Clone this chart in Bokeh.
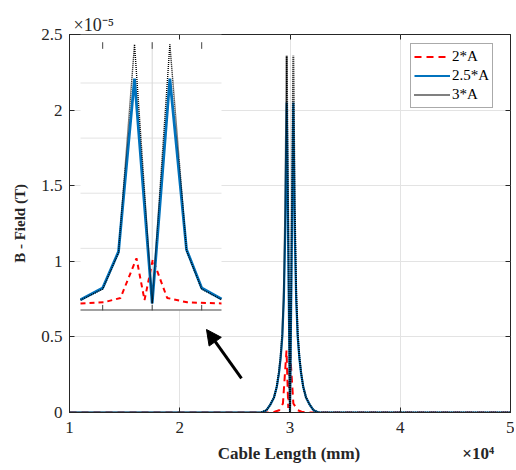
from bokeh.plotting import figure
from bokeh.models import Range1d, FixedTicker, LinearAxis, Arrow, NormalHead
from bokeh.embed import file_html
from bokeh.resources import INLINE

# ---------------- data (x in mm, B in units of 1e-5 T) ----------------
x_ticks = [10000, 20000, 30000, 40000, 50000]
x_tick_labels = ["1", "2", "3", "4", "5"]
y_ticks = [0, 0.5, 1, 1.5, 2, 2.5]
y_tick_labels = ["0", "0.5", "1", "1.5", "2", "2.5"]

main_x = [10000, 27400, 27870, 28200, 28550, 28800, 29000, 29150, 29300, 29440, 29570, 29700,
          30000, 30300, 30430, 30560, 30700, 30850, 31000, 31200, 31450, 31800, 32130, 32600, 50000]
b_25A = [0, 0, 0.015, 0.05, 0.10, 0.17, 0.26, 0.36, 0.50, 0.75, 1.20, 2.05,
         0, 2.05, 1.20, 0.75, 0.50, 0.36, 0.26, 0.17, 0.10, 0.05, 0.015, 0, 0]
b_3A = [0, 0, 0.015, 0.05, 0.10, 0.17, 0.27, 0.37, 0.52, 0.80, 1.35, 2.36,
        0, 2.36, 1.35, 0.80, 0.52, 0.37, 0.27, 0.17, 0.10, 0.05, 0.015, 0, 0]

red_x = [10000, 28250, 28600, 29020, 29360, 29683, 29845, 30013, 30303, 30707, 31050, 31400, 50000]
b_2A = [0, 0, 0.005, 0.015, 0.06, 0.41, 0.03, 0.40, 0.06, 0.015, 0.005, 0, 0]

# inset (zoom of the peaks)
inset_x = [28552, 29000, 29320, 29643, 30000, 30357, 30693, 31000, 31400]
inset_b25 = [0.034, 0.14, 0.47, 2.04, 0, 2.04, 0.49, 0.14, 0.04]
inset_b3 = [0.03, 0.13, 0.46, 2.35, 0, 2.35, 0.48, 0.13, 0.035]
inset_red_x = [28552, 29022, 29360, 29683, 29845, 30013, 30303, 30707, 31400]
inset_b2 = [0, 0.01, 0.05, 0.41, 0.03, 0.40, 0.05, 0.01, 0]
inset_ticks = [29000, 30000, 31000]
inset_grid_y = [0.5, 1, 1.5, 2]
inset_grid_x = [30000]

# ---------------- styling ----------------
SERIF = "Liberation Serif"
AX = "#262626"
RED = "#FF0000"
BLUE = "#0072BD"
NB = "\u00a0"

p = figure(width=514, height=470, output_backend="svg", toolbar_location=None,
           x_range=Range1d(10000, 50000), y_range=Range1d(0, 2.5),
           min_border_left=69, min_border_right=4, min_border_top=34, min_border_bottom=58)
p.background_fill_color = "white"
p.border_fill_color = "white"
p.outline_line_color = AX
p.outline_line_width = 1

# y-scale multiplier shown above the frame (MATLAB style)
p.title.text = "×10⁻⁵"
p.title.text_font = SERIF
p.title.text_font_style = "normal"
p.title.text_font_size = "18px"
p.title.text_color = AX
p.title.align = "left"
p.title.offset = 4
p.title.standoff = 0

for ax in (p.xaxis[0], p.yaxis[0]):
    ax.axis_line_color = AX
    ax.major_tick_line_color = AX
    ax.major_tick_in = 5
    ax.major_tick_out = 0
    ax.minor_tick_line_color = None
    ax.major_label_text_font = SERIF
    ax.major_label_text_font_size = "17px"
    ax.major_label_text_color = AX
    ax.axis_label_text_font = SERIF
    ax.axis_label_text_font_style = "bold"
    ax.axis_label_text_color = AX

p.xaxis[0].ticker = FixedTicker(ticks=x_ticks)
p.xaxis[0].major_label_overrides = dict(zip(x_ticks, x_tick_labels))
p.yaxis[0].ticker = FixedTicker(ticks=y_ticks)
p.yaxis[0].major_label_overrides = dict(zip(y_ticks, y_tick_labels))
# x-axis title, with the x multiplier (×10⁴) set at the right end of the same line
p.xaxis[0].axis_label = NB * 31 + "Cable Length (mm)" + NB * 24 + "×10⁴"
p.yaxis[0].axis_label = "B - Field (T)"
p.xaxis[0].axis_label_text_font_size = "17px"
p.yaxis[0].axis_label_text_font_size = "15px"
p.xaxis[0].major_label_standoff = 9
p.yaxis[0].major_label_standoff = 7
p.xaxis[0].axis_label_standoff = 8
p.yaxis[0].axis_label_standoff = 10

# box ticks on top/right (no labels)
top_ax = LinearAxis(ticker=FixedTicker(ticks=x_ticks), major_label_text_font_size="1px",
                    major_label_text_color=None, major_label_standoff=0,
                    axis_line_color=None, major_tick_line_color=AX,
                    major_tick_in=5, major_tick_out=0, minor_tick_line_color=None)
right_ax = LinearAxis(ticker=FixedTicker(ticks=y_ticks), major_label_text_font_size="1px",
                      major_label_text_color=None, major_label_standoff=0,
                      axis_line_color=None, major_tick_line_color=AX,
                      major_tick_in=5, major_tick_out=0, minor_tick_line_color=None)
p.add_layout(top_ax, "above")
p.add_layout(right_ax, "right")

p.xgrid.ticker = FixedTicker(ticks=x_ticks)
p.ygrid.ticker = FixedTicker(ticks=y_ticks)
p.xgrid.grid_line_color = "#e3e3e3"
p.ygrid.grid_line_color = "#e3e3e3"

# main lines
p.line(red_x, b_2A, line_color=RED, line_width=2, line_dash="7 5", legend_label="2*A")
p.line(main_x, b_25A, line_color=BLUE, line_width=2.2, legend_label="2.5*A")
p.line(main_x, b_3A, line_color="black", line_width=2, line_dash="1 1", legend_label="3*A")

# legend
lg = p.legend[0]
lg.location = (341, 304)
lg.margin = 0
lg.padding = 3
lg.spacing = 0
lg.label_height = 19
lg.glyph_height = 19
lg.glyph_width = 36
lg.label_standoff = 2
lg.label_text_font = SERIF
lg.label_text_font_size = "15px"
lg.label_text_color = "black"
lg.border_line_color = "#555555"
lg.border_line_width = 1
lg.background_fill_color = "white"
lg.background_fill_alpha = 1

# ---------------- inset ----------------
IN_X0, IN_X1 = 28552, 31400
IN_Y0, IN_Y1 = -0.0635, 2.44
ins = p.subplot(x_source=Range1d(IN_X0, IN_X1), y_source=Range1d(IN_Y0, IN_Y1),
                x_target=Range1d(10998, 23787), y_target=Range1d(0.675, 2.5))
ins.quad(left=[IN_X0], right=[IN_X1], bottom=[IN_Y0], top=[IN_Y1],
         fill_color="white", line_color=None)
ins.segment(x0=[IN_X0] * len(inset_grid_y), x1=[IN_X1] * len(inset_grid_y),
            y0=inset_grid_y, y1=inset_grid_y, line_color="#e3e3e3", line_width=1)
ins.segment(x0=inset_grid_x, x1=inset_grid_x, y0=[IN_Y0] * len(inset_grid_x),
            y1=[2.37] * len(inset_grid_x), line_color="#d8d8d8", line_width=1)
ins.segment(x0=[IN_X0], x1=[IN_X1], y0=[IN_Y0 + 0.004], y1=[IN_Y0 + 0.004],
            line_color="#444444", line_width=1.2)
ins.segment(x0=inset_ticks, x1=inset_ticks, y0=[IN_Y0] * 3, y1=[IN_Y0 + 0.05] * 3,
            line_color="#444444", line_width=1)
ins.segment(x0=inset_ticks, x1=inset_ticks, y0=[2.37] * 3, y1=[2.31] * 3,
            line_color="#444444", line_width=1)
ins.line(inset_red_x, inset_b2, line_color=RED, line_width=2, line_dash="5 4")
ins.line(inset_x, inset_b25, line_color=BLUE, line_width=2.8)
ins.line(inset_x, inset_b3, line_color="black", line_width=1.4, line_dash="1 1")

# arrow pointing to the inset
p.add_layout(Arrow(end=NormalHead(size=15, fill_color="black", line_color="black"),
                   x_start=25600, y_start=0.225, x_end=22426, y_end=0.549,
                   line_color="black", line_width=3))

open("out.html", "w").write(file_html(p, INLINE))
